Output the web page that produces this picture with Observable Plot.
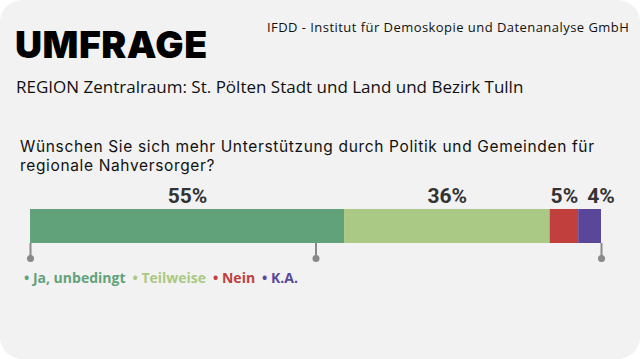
<!DOCTYPE html>
<html>
<head>
<meta charset="utf-8">
<script src="https://cdn.jsdelivr.net/npm/d3@7"></script>
<script src="https://cdn.jsdelivr.net/npm/@observablehq/plot@0.6"></script>
<style>
  body { margin: 0; background: #ffffff; }
  #card { position: relative; width: 640px; height: 359px; background: #f2f2f2; border-radius: 22px; overflow: hidden; font-family: "Open Sans", sans-serif; color: #111; }
  .abs { position: absolute; white-space: nowrap; }
  #title { left: 15px; top: 22px; font-family: Inter, sans-serif; font-weight: 900; font-size: 37.5px; line-height: 46px; letter-spacing: 0.5px; color: #000; }
  #source { left: 267px; top: 18px; font-size: 13px; line-height: 18px; letter-spacing: 0.45px; color: #111; }
  #subtitle { left: 16px; top: 75px; font-size: 17px; line-height: 24px; color: #111; }
  .qline { left: 20px; font-family: Inter, sans-serif; font-size: 15.5px; line-height: 19px; height: 19px; letter-spacing: 0.65px; color: #111; }
  #chart { left: 0; top: 180px; }
  #legend { left: 24px; top: 269px; font-size: 14px; font-weight: 700; line-height: 18px; }
  #legend span { margin-right: 7px; }
</style>
</head>
<body>
<div id="card">
  <div class="abs" id="title"></div>
  <div class="abs" id="source"></div>
  <div class="abs" id="subtitle"></div>
  <div class="abs" id="chart"></div>
  <div class="abs" id="legend"></div>
</div>
<script>
const titleText = "UMFRAGE";
const sourceText = "IFDD - Institut für Demoskopie und Datenanalyse GmbH";
const subtitleText = "REGION Zentralraum: St. Pölten Stadt und Land und Bezirk Tulln";
const questionLines = ["Wünschen Sie sich mehr Unterstützung durch Politik und Gemeinden für", "regionale Nahversorger?"];

const categories = ["Ja, unbedingt", "Teilweise", "Nein", "K.A."];
const values = [55, 36, 5, 4];
const labels = ["55%", "36%", "5%", "4%"];
const colors = ["#62a27a", "#a9c984", "#c1403d", "#5b479a"];
const tickValues = [0, 50, 100];

document.getElementById("title").textContent = titleText;
document.getElementById("source").textContent = sourceText;
document.getElementById("subtitle").textContent = subtitleText;
const card = document.getElementById("card");
questionLines.forEach((line, i) => {
  const d = document.createElement("div");
  d.className = "abs qline";
  d.style.top = (137 + i * 19) + "px";
  d.textContent = line;
  card.appendChild(d);
});

const data = categories.map((c, i) => ({answer: c, value: values[i], label: labels[i], q: "Q"}));

const chart = Plot.plot({
  width: 640,
  height: 90,
  marginLeft: 30,
  marginRight: 39,
  marginTop: 29,
  marginBottom: 27,
  style: {background: "transparent", overflow: "visible"},
  x: {domain: [0, 100], axis: null, label: null},
  y: {axis: null, padding: 0},
  color: {domain: categories, range: colors},
  marks: [
    Plot.barX(data, {x: "value", y: "q", fill: "answer"}),
    Plot.text(data, Plot.stackX({x: "value", y: "q", z: "answer", text: d => d.answer === "K.A." ? null : d.label, dy: -30, fontSize: 21, fontWeight: 700, fill: "#333", fontFamily: "Roboto, sans-serif"})),
    Plot.text(data, Plot.stackX({x: "value", y: "q", z: "answer", text: d => d.answer === "K.A." ? d.label : null, dy: -30, dx: 11, fontSize: 21, fontWeight: 700, fill: "#333", fontFamily: "Roboto, sans-serif"})),
    Plot.axisX({ticks: tickValues, tickSize: 15, tickFormat: () => "", label: null, stroke: "#8a8a8a", strokeWidth: 2}),
    Plot.dot(tickValues, {x: d => d, frameAnchor: "bottom", dy: 15, r: 3.5, fill: "#8a8a8a"})
  ]
});
document.getElementById("chart").appendChild(chart);

const legend = document.getElementById("legend");
categories.forEach((c, i) => {
  const s = document.createElement("span");
  s.style.color = colors[i];
  s.textContent = "• " + c;
  legend.appendChild(s);
});
</script>
</body>
</html>
